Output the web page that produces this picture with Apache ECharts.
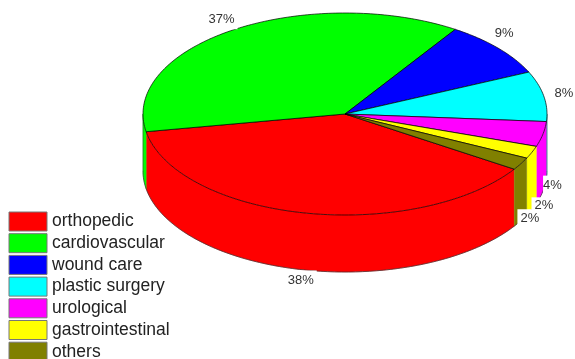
<!DOCTYPE html>
<html>
<head>
<meta charset="utf-8">
<style>
html, body { margin: 0; padding: 0; background: #fff; overflow: hidden; }
#chart { width: 575px; height: 359px; }
</style>
<script src="https://cdn.jsdelivr.net/npm/echarts@6/dist/echarts.min.js"></script>
</head>
<body>
<div id="chart"></div>
<script>
// Procedure share by specialty, in percent.
const categories = ['orthopedic', 'cardiovascular', 'wound care', 'plastic surgery', 'urological', 'gastrointestinal', 'others'];
const shares = [38, 37, 9, 8, 4, 2, 2];
const colors = ['#ff0000', '#00ff00', '#0000ff', '#00ffff', '#ff00ff', '#ffff00', '#808000'];

// Tilted-disc projection: top face is an ellipse, the rim hangs below it.
const disc = { cx: 345, cy: 114, rx: 202, ry: 101, depth: 57, startDeg: 33.1 };
// Nudge of each label's centre away from its slice's outer edge, in pixels.
const labelNudge = [[-4, 10], [-12, -10], [6, -15], [20, -3], [11, -6], [12, -4], [9, -2]];
// White box around each label; the small labels on the right sit tight together.
const labelPadding = [[3, 3], [3, 3], [3, 3], [3, 3], [3, 3, 3, 0], [3, 3, 0, 3], [5, 3, 1, 3]];
const labelFont = '13px "Liberation Sans", Arial, sans-serif';

const total = shares.reduce((s, v) => s + v, 0);

function rimPoint(deg, drop) {
  const t = deg * Math.PI / 180;
  return [disc.cx + disc.rx * Math.cos(t), disc.cy + disc.ry * Math.sin(t) + drop];
}

function arc(from, to, drop) {
  const steps = Math.max(2, Math.ceil(Math.abs(to - from)));
  const pts = [];
  for (let i = 0; i <= steps; i++) pts.push(rimPoint(from + (to - from) * i / steps, drop));
  return pts;
}

// Parts of a slice's rim that face the viewer (lower half of the ellipse).
function visibleRanges(a, b) {
  const out = [];
  [0, 360].forEach(k => {
    const lo = Math.max(a, k), hi = Math.min(b, k + 180);
    if (hi > lo) out.push([lo, hi]);
  });
  return out;
}

function sliceRenderer(index) {
  return function (params, api) {
    const before = api.value(0), share = api.value(1);
    const a = disc.startDeg + before / total * 360;
    const b = a + share / total * 360;
    const children = [];

    visibleRanges(a, b).forEach(([lo, hi]) => {
      const top = arc(lo, hi, 0), bottom = arc(lo, hi, disc.depth);
      children.push({
        type: 'polygon', z2: 1,
        shape: { points: top.concat(bottom.slice().reverse()) },
        style: { fill: colors[index], stroke: colors[index], lineWidth: 0.4 }
      });
      children.push({
        type: 'polyline', z2: 2,
        shape: { points: bottom },
        style: { fill: 'none', stroke: '#333', lineWidth: 0.7 }
      });
      // Silhouette edges at the far left and far right of the disc.
      [0, 180, 360, 540].forEach(edge => {
        if (edge >= lo && edge <= hi) {
          children.push({
            type: 'polyline', z2: 2,
            shape: { points: [rimPoint(edge, 0), rimPoint(edge, disc.depth)] },
            style: { fill: 'none', stroke: '#444', lineWidth: 0.6 }
          });
        }
      });
    });

    children.push({
      type: 'polygon', z2: 10,
      shape: { points: [[disc.cx, disc.cy]].concat(arc(a, b, 0)) },
      style: { fill: colors[index], stroke: '#000', lineWidth: 0.7, lineJoin: 'round' }
    });

    const mid = (a + b) / 2;
    const facing = visibleRanges(mid, mid + 0.001).length > 0;
    const anchor = rimPoint(mid, facing ? disc.depth : 0);
    children.push({
      type: 'text', z2: 100 + index,
      style: {
        text: share + '%',
        x: anchor[0] + labelNudge[index][0],
        y: anchor[1] + labelNudge[index][1],
        align: 'center', verticalAlign: 'middle',
        font: labelFont, fill: '#333',
        backgroundColor: '#fff', padding: labelPadding[index]
      }
    });
    return { type: 'group', children };
  };
}

let running = 0;
const series = categories.map((name, i) => {
  const before = running;
  running += shares[i];
  return {
    type: 'custom',
    name,
    coordinateSystem: 'none',
    itemStyle: { color: colors[i] },
    renderItem: sliceRenderer(i),
    data: [[before, shares[i]]],
    silent: true
  };
});

const chart = echarts.init(document.getElementById('chart'), null, { renderer: 'canvas' });
chart.setOption({
  animation: false,
  backgroundColor: '#fff',
  legend: {
    data: categories,
    orient: 'vertical',
    left: 8.5,
    top: 211.5,
    height: 200,
    padding: 0,
    itemWidth: 38,
    itemHeight: 19,
    itemGap: 1.7,
    icon: 'rect',
    selectedMode: false,
    itemStyle: { borderColor: '#777', borderWidth: 1 },
    textStyle: { fontFamily: '"Liberation Sans", Arial, sans-serif', fontSize: 17.5, color: '#222', lineHeight: 19 }
  },
  series
});
</script>
</body>
</html>
